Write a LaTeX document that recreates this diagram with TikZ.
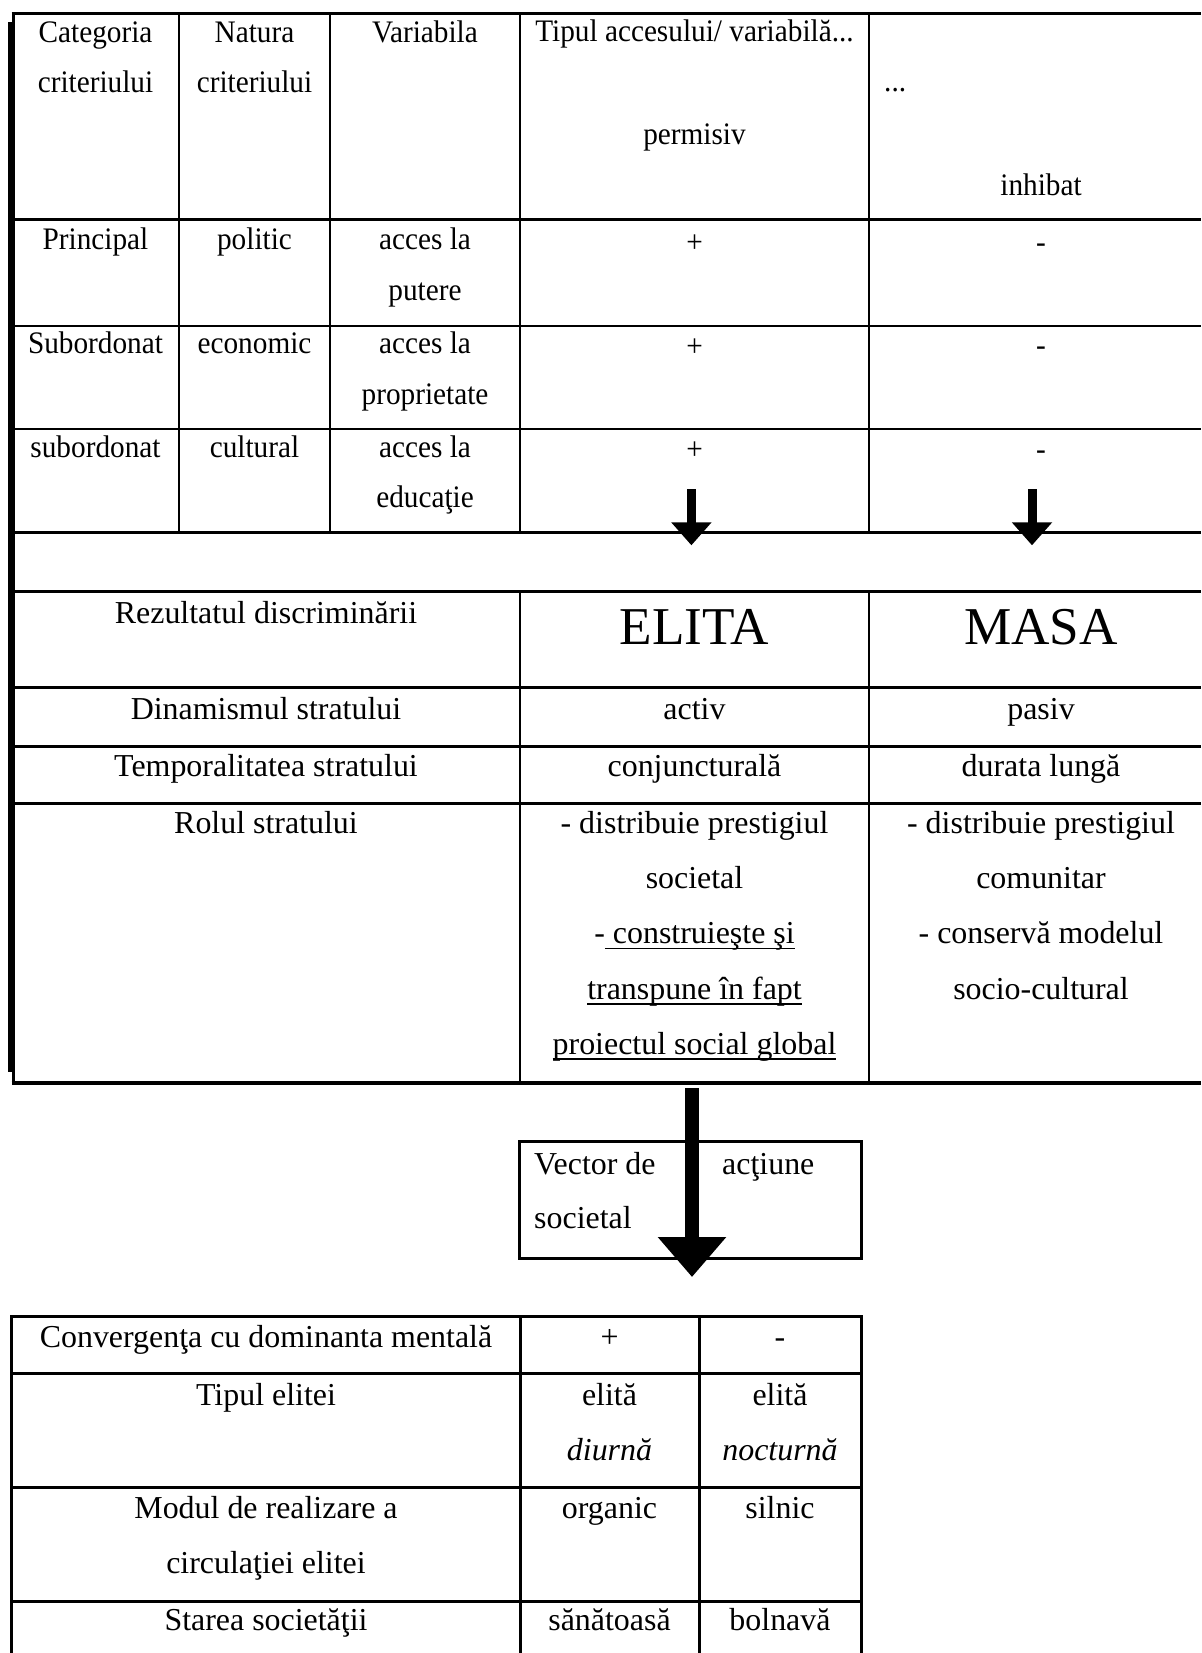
\documentclass[tikz,border=0pt]{standalone}
\usepackage{fontspec}
\setmainfont{Liberation Serif}
\newfontfamily\upperfont{Liberation Serif}[FakeStretch=0.935]
\usetikzlibrary{arrows.meta}
\newcommand\myul[1]{\setbox0\hbox{#1}\rlap{\rule[-5.8pt]{\wd0}{1.7pt}}\box0}
\tikzset{
  smalltxt/.style={anchor=base, inner sep=0pt, font=\upperfont\fontsize{31.3}{36}\selectfont},
  largetxt/.style={anchor=base, inner sep=0pt, font=\fontsize{31.92}{38}\selectfont},
  hugetxt/.style={anchor=base, inner sep=0pt, font=\fontsize{53.2}{60}\selectfont},
  thk/.style={line width=3pt},
  thn/.style={line width=2pt},
  smallarrow/.style={line width=9pt, -{Triangle[width=39pt,length=23pt]}},
  bigarrow/.style={line width=14pt, -{Triangle[width=66pt,length=40pt]}},
}
\begin{document}
\begin{tikzpicture}[x=1pt,y=-1pt]
\useasboundingbox (0,0) rectangle (1201,1653);

% ---------- upper big table ----------
\fill (8.3,21.7) rectangle (15,1071.7);
\draw[line width=3.3pt] (13.3,12.5) -- (13.3,1085);
\draw[thk] (11.7,14) -- (1201,14);
\draw[thk] (12,219.5) -- (1201,219.5);
\draw[thn] (12,325.5) -- (1201,325.5);
\draw[thn] (12,428.6) -- (1201,428.6);
\draw[thk] (12,532) -- (1201,532);
\draw[thk] (12,591.5) -- (1201,591.5);
\draw[thk] (12,687.4) -- (1201,687.4);
\draw[thk] (12,746.5) -- (1201,746.5);
\draw[thk] (12,803.5) -- (1201,803.5);
\draw[line width=3.5pt] (11.7,1083) -- (1201,1083);
\foreach \x in {179,330,520,869} \draw[thn] (\x,14) -- (\x,532);
\foreach \x in {520,869} \draw[thn] (\x,591.5) -- (\x,1083);

% header
\node[smalltxt] (h1a) at (95.5,42.5) {Categoria};
\node[smalltxt] (h1b) at (95.5,93) {criteriului};
\node[smalltxt] (h2a) at (254.5,42.5) {Natura};
\node[smalltxt] (h2b) at (254.5,93) {criteriului};
\node[smalltxt] (h3a) at (425,42.5) {Variabila};
\node[smalltxt] (h4a) at (694.5,41.5) {Tipul accesului/ variabilă...};
\node[smalltxt] (h4b) at (694.5,144.5) {permisiv};
\node[smalltxt, anchor=base west] (h5a) at (884,92) {...};
\node[smalltxt] (h5b) at (1041,195.5) {inhibat};
% rows
\node[smalltxt] (r1a) at (95.5,249.5) {Principal};
\node[smalltxt] (r1b) at (254.5,249.5) {politic};
\node[smalltxt] (r1c) at (425,249.5) {acces la};
\node[smalltxt] (r1d) at (425,300.5) {putere};
\node[smalltxt] (r1e) at (694.5,252.5) {+};
\node[smalltxt] (r1f) at (1041,252) {-};
\node[smalltxt] (r2a) at (95.5,353.5) {Subordonat};
\node[smalltxt] (r2b) at (254.5,353.5) {economic};
\node[smalltxt] (r2c) at (425,353.5) {acces la};
\node[smalltxt] (r2d) at (425,404.5) {proprietate};
\node[smalltxt] (r2e) at (694.5,356) {+};
\node[smalltxt] (r2f) at (1041,355.5) {-};
\node[smalltxt] (r3a) at (95.5,457) {subordonat};
\node[smalltxt] (r3b) at (254.5,457) {cultural};
\node[smalltxt] (r3c) at (425,457) {acces la};
\node[smalltxt] (r3d) at (425,507.5) {educaţie};
\node[smalltxt] (r3e) at (694.5,459.5) {+};
\node[smalltxt] (r3f) at (1041,459) {-};

% small arrows
\coordinate (s1) at (691.4,489);
\coordinate (e1) at (691.4,545.3);
\coordinate (s2) at (1032,489);
\coordinate (e2) at (1032,545.3);
\draw[smallarrow] (s1) -- (e1);
\draw[smallarrow] (s2) -- (e2);

% lower part
\node[largetxt] (rez) at (266,623) {Rezultatul discriminării};
\node[hugetxt] (elita) at (694.5,644) {ELITA};
\node[hugetxt] (masa) at (1041,644) {MASA};
\node[largetxt] (din) at (266,719.3) {Dinamismul stratului};
\node[largetxt] (act) at (694.5,719.3) {activ};
\node[largetxt] (pas) at (1041,719.3) {pasiv};
\node[largetxt] (tem) at (266,776) {Temporalitatea stratului};
\node[largetxt] (con) at (694.5,776) {conjuncturală};
\node[largetxt] (dur) at (1041,776) {durata lungă};
\node[largetxt] (rol) at (266,833) {Rolul stratului};
\node[largetxt] (e1a) at (694.5,833) {- distribuie prestigiul};
\node[largetxt] (e1b) at (694.5,888) {societal};
\node[largetxt] (e1c) at (694.5,943.5) {-\myul{\ construieşte şi}};
\node[largetxt] (e1d) at (694.5,999) {\myul{transpune în fapt}};
\node[largetxt] (e1e) at (694.5,1054) {\myul{proiectul social global}};
\node[largetxt] (m1a) at (1041,833) {- distribuie prestigiul};
\node[largetxt] (m1b) at (1041,888) {comunitar};
\node[largetxt] (m1c) at (1041,943.5) {- conservă modelul};
\node[largetxt] (m1d) at (1041,999) {socio-cultural};

% vector box and big arrow
\node[draw, thk, minimum width=341.5pt, minimum height=117pt, inner sep=0pt] (vbox) at (690.25,1199.5) {};
\node[largetxt, anchor=base west] (v1) at (534,1174) {Vector de};
\node[largetxt, anchor=base west] (v2) at (722,1174) {acţiune};
\node[largetxt, anchor=base west] (v3) at (534,1228) {societal};
\coordinate (bs) at (692,1088);
\coordinate (be) at (692,1277);
\draw[bigarrow] (bs) -- (be);

% bottom table
\draw[thk] (10,1316) -- (862.5,1316);
\draw[thk] (11.5,1373) -- (861,1373);
\draw[thk] (11.5,1487) -- (861,1487);
\draw[thk] (11.5,1601) -- (861,1601);
\foreach \x in {11.5,520,699,861} \draw[thk] (\x,1316) -- (\x,1660);

\node[largetxt] (b1a) at (266,1347) {Convergenţa cu dominanta mentală};
\node[largetxt] (b1b) at (609.5,1347) {+};
\node[largetxt] (b1c) at (780,1347) {-};
\node[largetxt] (b2a) at (266,1405) {Tipul elitei};
\node[largetxt] (b2b) at (609.5,1405) {elită};
\node[largetxt] (b2c) at (780,1405) {elită};
\node[largetxt] (b2d) at (609.5,1460) {\itshape diurnă};
\node[largetxt] (b2e) at (780,1460) {\itshape nocturnă};
\node[largetxt] (b3a) at (266,1518) {Modul de realizare a};
\node[largetxt] (b3b) at (266,1573) {circulaţiei elitei};
\node[largetxt] (b3c) at (609.5,1518) {organic};
\node[largetxt] (b3d) at (780,1518) {silnic};
\node[largetxt] (b4a) at (266,1630) {Starea societăţii};
\node[largetxt] (b4b) at (609.5,1630) {sănătoasă};
\node[largetxt] (b4c) at (780,1630) {bolnavă};
\end{tikzpicture}
\end{document}
